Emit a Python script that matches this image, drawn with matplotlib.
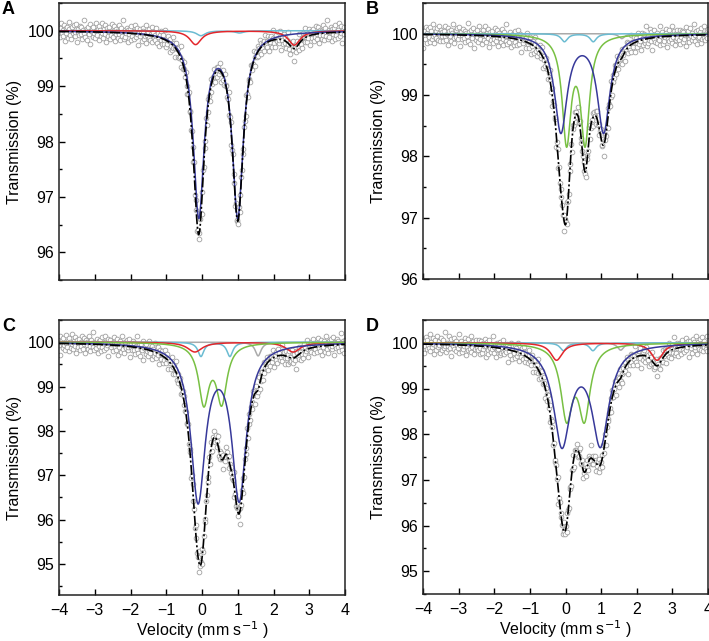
import numpy as np
import matplotlib
matplotlib.use("Agg")
import matplotlib.pyplot as plt
from matplotlib.ticker import MultipleLocator

plt.rcParams['font.family'] = ['Liberation Sans', 'DejaVu Sans']
plt.rcParams['font.size'] = 11

# ---- data: sub-spectrum lines as (centre mm/s, depth %, FWHM mm/s) ----
A_blue = [(-0.09, 3.30, 0.37), (1.00, 3.30, 0.37)]
A_red = [(-0.18, 0.25, 0.40), (2.58, 0.26, 0.40)]
A_cyan = [(-0.03, 0.09, 0.30), (1.05, 0.04, 0.30)]

B_blue = [(-0.13, 1.58, 0.43), (1.07, 1.58, 0.43)]
B_green = [(0.03, 1.72, 0.30), (0.55, 1.72, 0.30)]
B_cyan = [(-0.03, 0.13, 0.22), (0.78, 0.13, 0.22)]
B_grey = [(1.58, 0.08, 0.20)]

C_blue = [(-0.11, 3.50, 0.49), (1.04, 3.46, 0.49)]
C_green = [(0.05, 1.32, 0.35), (0.55, 1.30, 0.35)]
C_cyan = [(-0.03, 0.32, 0.20), (0.78, 0.32, 0.20)]
C_red = [(-0.20, 0.22, 0.50), (2.55, 0.22, 0.50)]
C_grey = [(1.57, 0.31, 0.20)]

D_blue = [(-0.10, 2.17, 0.58), (0.98, 2.15, 0.58)]
D_green = [(0.03, 1.55, 0.395), (0.53, 1.55, 0.395)]
D_red = [(-0.25, 0.38, 0.40), (2.57, 0.38, 0.40)]
D_cyan = [(-0.06, 0.17, 0.22), (0.77, 0.17, 0.22)]
D_grey = [(1.55, 0.16, 0.22)]

# residual scatter of the measured points (units of panel noise level)
residuals = [
    0.4, -1.1, 0.7, 1.6, -0.3, -0.9, 0.2, 1.2, -1.8, 0.6,
    -0.2, 0.9, -1.2, 0.4, 1.9, -0.6, -1.4, 0.1, 0.8, -0.3,
    1.3, -0.8, -0.1, 1.5, -2.0, 0.5, 0.0, -0.7, 1.1, -0.5,
    0.8, -1.3, 0.3, -0.2, 2.2, -1.0, 0.6, -1.6, 0.3, 0.9,
    -0.4, 1.4, -2.3, 0.2, 0.7, -0.9, 1.0, -0.3, -1.2, 1.7,
    0.1, -0.6, 0.5, -1.5, 1.1, 0.4, -0.8, 1.8, -0.1, -1.1,
    0.6, -0.4, 1.3, -1.9, 0.8, 0.2, -0.7, 1.0, -1.3, 0.3,
    -0.5, 1.6, -0.9, 0.0, 1.2, -1.7, 0.7, -0.2, 0.4, -1.0,
    1.5, -0.3, -1.4, 0.9, 0.2, -0.6, 2.4, -1.1, 0.5, -0.8,
    0.1, 1.0, -1.6, 0.6, -0.2, 0.8, -1.2, 1.4, -0.5, 0.3,
    -1.0, 0.5, 1.7, -0.7, -0.1, 1.1, -2.1, 0.4, 0.9, -0.4,
    0.2, -1.3, 1.3, 0.7, -0.8, -0.2, 1.9, -1.5, 0.0, 0.6,
    -0.6, 1.2, -0.9, 0.3, 1.6, -1.1, 0.8, -0.3]

panel_names = ['A', 'B', 'C', 'D']
panel_noise = [0.095, 0.09, 0.115, 0.115]
panel_shift = [0, 137, 71, 251]
panel_ylim = [(95.5, 100.5), (96.0, 100.5), (94.3, 100.5), (94.5, 100.5)]
panel_yticks = [[96, 97, 98, 99, 100], [96, 97, 98, 99, 100],
                [95, 96, 97, 98, 99, 100], [95, 96, 97, 98, 99, 100]]
xticks = [-4, -3, -2, -1, 0, 1, 2, 3, 4]
xticklabels = ['\u22124', '\u22123', '\u22122', '\u22121', '0', '1', '2', '3', '4']

colors = {'blue': '#37399a', 'green': '#78c043', 'red': '#e3262b',
          'cyan': '#6bbcd2', 'grey': '#aaaaaa'}

panel_components = [
    [('cyan', A_cyan), ('red', A_red), ('blue', A_blue)],
    [('grey', B_grey), ('cyan', B_cyan), ('green', B_green), ('blue', B_blue)],
    [('grey', C_grey), ('cyan', C_cyan), ('red', C_red), ('green', C_green), ('blue', C_blue)],
    [('grey', D_grey), ('cyan', D_cyan), ('red', D_red), ('green', D_green), ('blue', D_blue)],
]


def absorption(v, lines):
    out = np.zeros_like(v)
    for c, d, w in lines:
        out += d / (1.0 + ((v - c) / (w / 2.0)) ** 2)
    return out


base = np.array(residuals)
res_long = np.concatenate([base, -np.roll(base, 50)[::-1], np.roll(base, 17)])

fig = plt.figure(figsize=(7.09, 6.41), dpi=100)
W, H = 709.0, 641.0
boxes = [(59, 3, 345, 280), (423, 3, 708, 279), (59, 320, 345, 595), (423, 320, 708, 594)]

v_fine = np.linspace(-4, 4, 1200)
v_pts = np.linspace(-4, 4, res_long.size)

for i, name in enumerate(panel_names):
    x0, y0, x1, y1 = boxes[i]
    ax = fig.add_axes([x0 / W, 1 - y1 / H, (x1 - x0) / W, (y1 - y0) / H])
    comps = panel_components[i]
    all_lines = [ln for _, lines in comps for ln in lines]
    # measured points
    res = np.roll(res_long, panel_shift[i])
    y_pts = 100 - absorption(v_pts, all_lines) + res * panel_noise[i]
    ax.plot(v_pts, y_pts, 'o', ms=3.4, mfc='white', mec='#a0a0a0', mew=0.6, zorder=1)
    # components
    for cname, lines in comps:
        ax.plot(v_fine, 100 - absorption(v_fine, lines), color=colors[cname], lw=1.1, zorder=2)
    # total fit
    ax.plot(v_fine, 100 - absorption(v_fine, all_lines), color='black', lw=1.2,
            ls=(0, (6, 1.5, 1.2, 1.5)), zorder=3)

    ax.set_xlim(-4, 4)
    ax.set_ylim(*panel_ylim[i])
    ax.set_yticks(panel_yticks[i])
    ax.yaxis.set_minor_locator(MultipleLocator(0.5))
    ax.set_xticks(xticks)
    ax.tick_params(direction='in', which='both', length=4, width=1, labelsize=11.5)
    ax.tick_params(which='minor', length=2.5)
    ax.tick_params(axis='x', pad=6)
    if i >= 2:
        ax.set_xticklabels(xticklabels)
        ax.set_xlabel('Velocity (mm s$^{-1}$ )', fontsize=11.5, labelpad=1)
    else:
        ax.set_xticklabels([])
    ax.set_ylabel('Transmission (%)', fontsize=11.5, labelpad=4)
    for sp in ax.spines.values():
        sp.set_linewidth(1.1)
        sp.set_color('#222222')
    fig.text((x0 - 57) / W, 1 - (y0 - 2) / H, name, fontsize=13, fontweight='bold',
             ha='left', va='top')

fig.savefig('out.png', dpi=100)
